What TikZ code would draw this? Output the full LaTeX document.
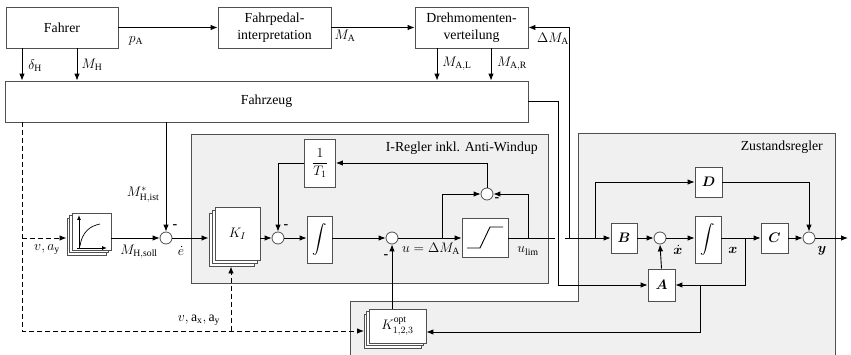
\RequirePackage{fix-cm}
\documentclass[tikz,border=0pt]{standalone}
\usepackage{amsmath,bm}
\usepackage{fontspec}
\setmainfont{Liberation Serif}
\usetikzlibrary{arrows.meta,shadows,calc}
\definecolor{bgray}{RGB}{240,240,240}
\definecolor{edge}{RGB}{80,80,80}
\begin{document}
\begin{tikzpicture}[x=1pt,y=-1pt,
  every node/.style={font=\fontsize{13.8}{17}\selectfont},
  blk/.style={draw=edge, fill=white, line width=0.8pt, inner sep=0pt},
  sumc/.style={circle, draw=edge, fill=white, line width=0.8pt, minimum size=12pt, inner sep=0pt},
  stackbox/.style={blk, double copy shadow={shadow xshift=-#1, shadow yshift=-#1}},
  arr/.style={-{Latex[length=7pt,width=5.5pt]}, line width=0.9pt},
  smallarr/.style={-{Latex[length=5pt,width=4pt]}, line width=0.9pt},
  conn/.style={line width=0.9pt},
  dsh/.style={dash pattern=on 5pt off 3pt},
  lbl/.style={inner sep=0pt},
  mns/.style={inner sep=0pt, font=\fontsize{14}{14}\selectfont\bfseries},
  region/.style={fill=bgray, draw=edge, line width=0.8pt}]
\useasboundingbox (0,0) rectangle (851,355);

% gray regions
\draw[region] (191,134) rectangle (548,283);
\draw[region] (350,362) -- (350,301) -- (578,301) -- (578,133) -- (835,133) -- (835,362);
\node[lbl, anchor=east] (ireg) at (538,148) {I-Regler inkl. Anti-Windup};
\node[lbl, anchor=east] (zreg) at (823,147) {Zustandsregler};

% top blocks
\node[blk, minimum width=112pt, minimum height=41pt] (fahrer) at (62,27.5) {Fahrer};
\node[blk, align=center, minimum width=113pt, minimum height=41pt] (pedal) at (274.5,27.5) {Fahrpedal-\\interpretation};
\node[blk, align=center, minimum width=113pt, minimum height=41pt] (dreh) at (471.5,27.5) {Drehmomenten-\\verteilung};
\node[blk, minimum width=523pt, minimum height=41pt] (fzg) at (266.5,101.5) {Fahrzeug};

% lower blocks
\node[stackbox=2.5pt, minimum width=39pt, minimum height=37pt] (lut) at (91.5,231.5) {};
\node[sumc] (s1) at (166,238) {};
\node[stackbox=3pt, minimum width=45pt, minimum height=53pt] (ki) at (237.5,233.5) {$K_I$};
\node[sumc] (s2) at (278,238) {};
\node[blk, minimum width=31pt, minimum height=48pt] (t1) at (320,163) {$\displaystyle\frac{1}{T_1}$};
\node[blk, minimum width=25pt, minimum height=47pt] (int1) at (319.5,239.5) {$\displaystyle\int$};
\node[sumc] (s3) at (392,238) {};
\node[blk, minimum width=46pt, minimum height=39pt] (sat) at (485,238) {};
\node[sumc] (s4) at (487,194) {};
\node[stackbox=2.5pt, minimum width=57pt, minimum height=34pt] (kopt) at (397.5,326) {$K^{\mathrm{opt}}_{1,2,3}$};
\node[blk, minimum width=26pt, minimum height=30pt] (B) at (624,238) {$\bm{B}$};
\node[sumc] (s5) at (660,238) {};
\node[blk, minimum width=26pt, minimum height=47pt] (int2) at (708,239.5) {$\displaystyle\int$};
\node[blk, minimum width=27pt, minimum height=30pt] (C) at (774.5,238) {$\bm{C}$};
\node[sumc] (s6) at (809,238) {};
\node[blk, minimum width=27pt, minimum height=30pt] (D) at (708.5,182) {$\bm{D}$};
\node[blk, minimum width=27pt, minimum height=32pt] (A) at (661.5,285) {$\bm{A}$};

% lookup table glyph
\draw[smallarr] (79,248) -- (79,215);
\draw[smallarr] (77,248) -- (107,248);
\draw[line width=0.7pt] (80,246) .. controls (82,232) and (90,226) .. (100,224);
% saturation glyph
\draw[line width=0.9pt] (467,248) -- (480,248) -- (490,227) -- (503,227);

% coordinates
\coordinate (xdH) at (22,0);
\coordinate (xMH) at (77,0);
\coordinate (xAL) at (437,0);
\coordinate (xAR) at (491,0);
\coordinate (xfz) at (558,0);
\coordinate (jdm) at (569,238);
\coordinate (gapL) at (555,238);
\coordinate (gapR) at (565,238);
\coordinate (dbot) at (22,331);
\coordinate (kin) at (364,331);
\coordinate (lutin) at (66.5,238);
\coordinate (kiin) at (231,266.5);
\coordinate (kiL) at (208.5,238);
\coordinate (b1) at (442,238);
\coordinate (b2) at (528,238);
\coordinate (bd) at (595,238);
\coordinate (xj) at (745,238);
\coordinate (aj) at (700,285);
\coordinate (kyl) at (0,332);
\coordinate (out) at (848,238);

% top connectors
\draw[arr] (fahrer.east) -- (pedal.west);
\draw[arr] (pedal.east) -- (dreh.west);
\draw[arr] (xdH |- fahrer.south) -- (xdH |- fzg.north);
\draw[arr] (xMH |- fahrer.south) -- (xMH |- fzg.north);
\draw[arr] (xAL |- dreh.south) -- (xAL |- fzg.north);
\draw[arr] (xAR |- dreh.south) -- (xAR |- fzg.north);
\draw[arr] (jdm) -- (jdm |- dreh.east) -- (dreh.east);
\draw[arr] (fzg.east) -- (xfz |- fzg.east) -- (xfz |- A.west) -- (A.west);

% dashed signals
\draw[arr,dsh] (xdH |- fzg.south) -- (dbot) -- (kin);
\draw[arr,dsh] (xdH |- lutin) -- (lutin);
\draw[arr,dsh] (kiin |- dbot) -- (kiin);

% I controller
\draw[arr] (lut.east |- s1) -- (s1.west);
\draw[arr] (s1 |- fzg.south) -- (s1.north);
\draw[arr] (s1.east) -- (kiL);
\draw[arr] (ki.east |- s2) -- (s2.west);
\draw[arr] (t1.west) -- (s2 |- t1.west) -- (s2.north);
\draw[arr] (s2.east) -- (int1.west |- s2);
\draw[arr] (int1.east |- s3) -- (s3.west);
\draw[arr] (s3.east) -- (sat.west);
\draw[arr] (b1) -- (b1 |- s4) -- (s4.west);
\draw[arr] (b2) -- (b2 |- s4) -- (s4.east);
\draw[arr] (s4.north) -- (s4 |- t1.east) -- (t1.east);
\draw[arr] (s3 |- kopt.north) -- (s3.south);
\draw[conn] (sat.east) -- (gapL);

% state controller
\draw[arr] (gapR) -- (B.west);
\draw[arr] (bd) -- (bd |- D.west) -- (D.west);
\draw[arr] (B.east) -- (s5.west);
\draw[arr] (s5.east) -- (int2.west |- s5);
\draw[arr] (int2.east |- C) -- (C.west);
\draw[arr] (C.east) -- (s6.west);
\draw[arr] (D.east) -- (s6 |- D.east) -- (s6.north);
\draw[arr] (s6.east) -- (out);
\draw[arr] (xj) -- (xj |- A.east) -- (A.east);
\draw[arr] (aj) -- (aj |- kyl) -- (kopt.east |- kyl);
\draw[arr] (A.north) -- (s5.south);

% labels
\node[lbl] (lpA) at (136,41) {$p_\mathrm{A}$};
\node[lbl] (lMA) at (345,36) {$M_\mathrm{A}$};
\node[lbl] (ldMA) at (553,39) {$\Delta M_\mathrm{A}$};
\node[lbl] (ldH) at (35,66) {$\delta_\mathrm{H}$};
\node[lbl] (lMH) at (92,65) {$M_\mathrm{H}$};
\node[lbl] (lMAL) at (457,64) {$M_\mathrm{A,L}$};
\node[lbl] (lMAR) at (512,64) {$M_\mathrm{A,R}$};
\node[lbl] (lMist) at (143,195) {$M^*_\mathrm{H,ist}$};
\node[lbl] (lvay) at (47,250) {$v, a_\mathrm{y}$};
\node[lbl] (lMsoll) at (139,252) {$M_\mathrm{H,soll}$};
\node[lbl] (le) at (181,251) {$\dot{e}$};
\node[lbl] (lu) at (431,249) {$u = \Delta M_\mathrm{A}$};
\node[lbl] (lulim) at (528,251) {$u_\mathrm{lim}$};
\node[lbl] (lxd) at (678,250) {$\dot{\bm{x}}$};
\node[lbl] (lx) at (733,250) {$\bm{x}$};
\node[lbl] (ly) at (822,251) {$\bm{y}$};
\node[lbl] (lvaxay) at (199,320) {$v, \mathrm{a}_\mathrm{x}, \mathrm{a}_\mathrm{y}$};
\node[mns] (m1) at (175,227) {-};
\node[mns] (m2) at (286,227) {-};
\node[mns] (m3) at (386,257) {-};
\node[mns] (m4) at (497,200) {-};
\end{tikzpicture}
\end{document}
